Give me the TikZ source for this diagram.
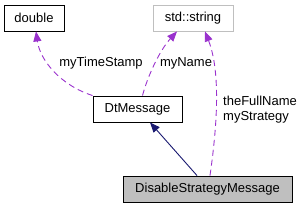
\documentclass[tikz,border=0pt]{standalone}
\usepackage{fontspec}
\setmainfont{Liberation Sans}
\usetikzlibrary{arrows.meta}
\definecolor{edgepurple}{HTML}{9A32CD}
\definecolor{edgenavy}{HTML}{191970}
\definecolor{boxgray}{HTML}{BFBFBF}
\tikzset{
  cls/.style={draw=black,line width=0.9pt,minimum height=26pt,inner sep=0pt,font=\fontsize{13}{15}\selectfont},
  usage/.style={draw=edgepurple,line width=0.9pt,dashed,dash pattern=on 6pt off 4pt,-{Triangle[length=10pt,width=8pt]}},
  inherit/.style={draw=edgenavy,line width=0.9pt,-{Triangle[length=10pt,width=8pt]}},
  lbl/.style={font=\fontsize{13}{15}\selectfont,inner sep=0pt}
}
\begin{document}
\begin{tikzpicture}[x=1pt,y=-1pt]
\useasboundingbox (0,0) rectangle (304,208);

% osztalyok
\node[cls,minimum width=60pt] (double) at (34,18) {double};
\node[cls,draw=boxgray,minimum width=80pt] (string) at (193,18) {std::string};
\node[cls,minimum width=89pt] (dtmsg) at (137.5,109) {DtMessage};
\node[cls,fill=boxgray,minimum width=169pt] (dsm) at (207.5,189) {DisableStrategyMessage};

% tagok
\draw[usage] (dtmsg.north west) .. controls (60,85) and (40,60) .. ([xshift=2pt]double.south);
\draw[usage] ([xshift=5pt]dtmsg.north) .. controls (148,75) and (160,50) .. ([xshift=-16pt]string.south);
\draw[usage] ([xshift=2.5pt]dsm.north) .. controls (218,120) and (220,70) .. ([xshift=12pt]string.south);

% oroklodes
\draw[inherit] ([xshift=-10.5pt]dsm.north) -- ([xshift=12.5pt]dtmsg.south);

% feliratok
\node[lbl] (tslbl) at (101,63) {myTimeStamp};
\node[lbl] (namelbl) at (186,63) {myName};
\node[lbl,anchor=west,align=left] (strlbl) at (223,110) {theFullName\\myStrategy};

\end{tikzpicture}
\end{document}
